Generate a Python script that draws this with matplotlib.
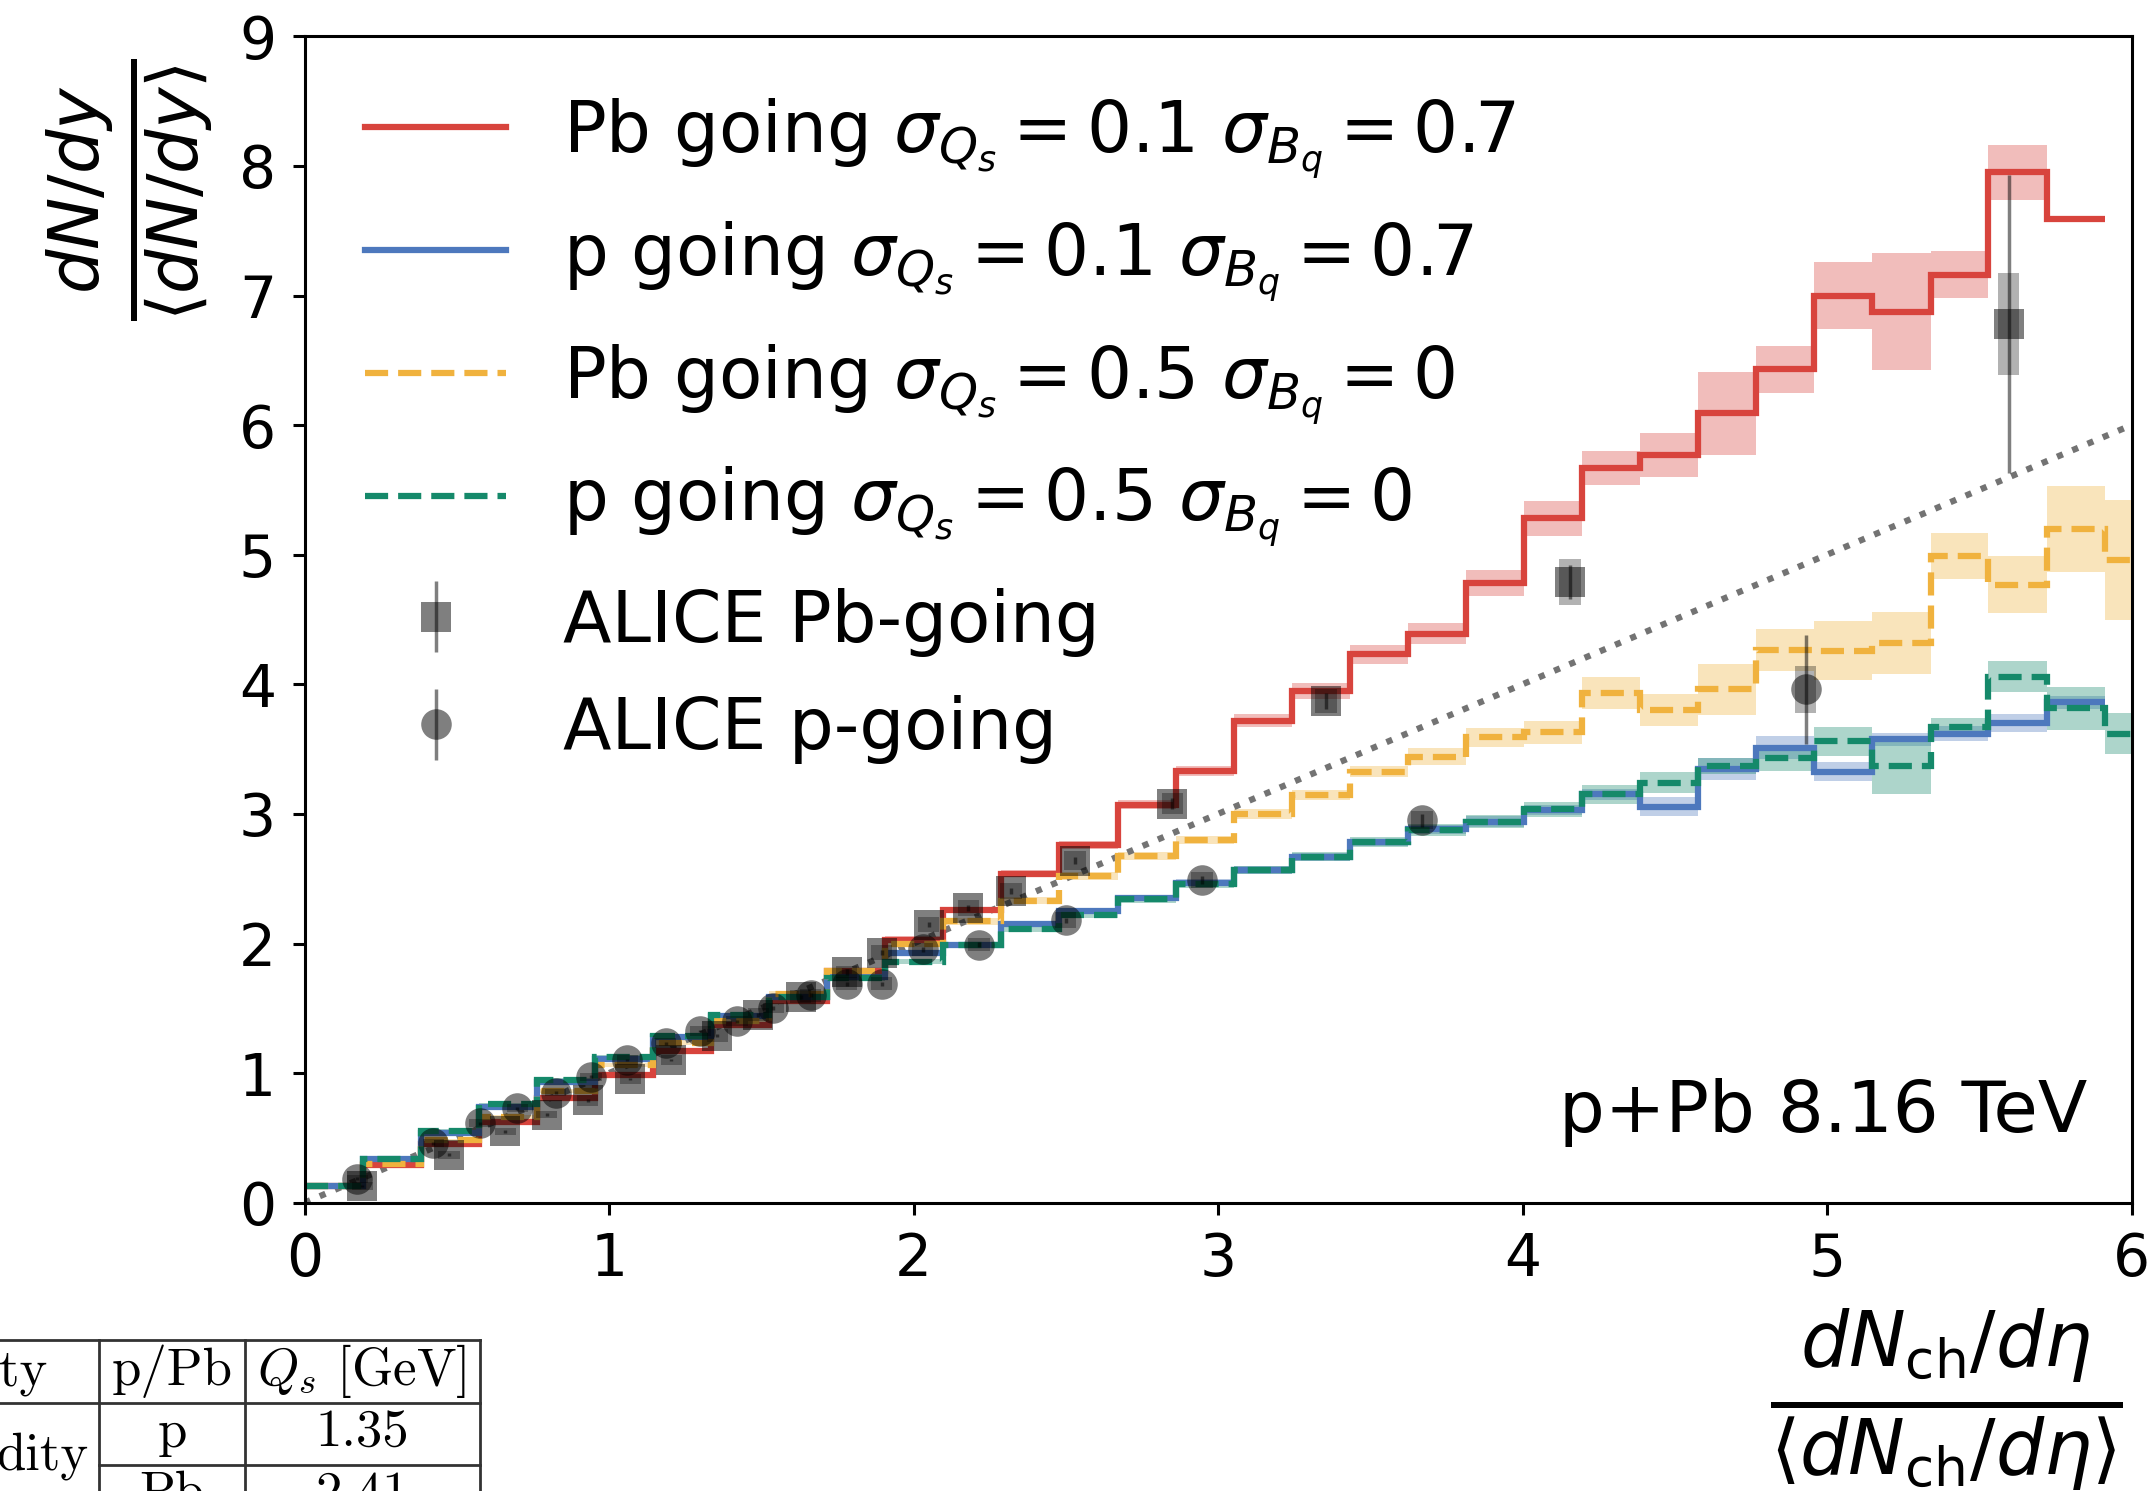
import numpy as np
import matplotlib
matplotlib.use("Agg")
import matplotlib.pyplot as plt
from matplotlib.lines import Line2D

# ---------------------------------------------------------------- data
# bin edges in dN_ch/deta / <dN_ch/deta>
edges = [0.000, 0.191, 0.381, 0.572, 0.763, 0.954, 1.144, 1.335, 1.526, 1.716,
         1.907, 2.098, 2.288, 2.479, 2.670, 2.861, 3.051, 3.242, 3.433, 3.623,
         3.814, 4.005, 4.195, 4.386, 4.577, 4.768, 4.958, 5.149, 5.340, 5.530,
         5.721, 5.912, 6.102]

# Pb going, sigma_Qs = 0.1, sigma_Bq = 0.7
pb_01 = [0.13, 0.29, 0.45, 0.62, 0.81, 0.985, 1.17, 1.37, 1.56, 1.79,
         2.03, 2.26, 2.54, 2.76, 3.07, 3.33, 3.72, 3.95, 4.23, 4.39,
         4.78, 5.28, 5.67, 5.77, 6.09, 6.43, 7.00, 6.875, 7.16, 7.95, 7.59]
pb_01_err = [0.01, 0.01, 0.01, 0.01, 0.015, 0.015, 0.015, 0.02, 0.02, 0.02,
             0.025, 0.025, 0.03, 0.03, 0.035, 0.04, 0.05, 0.06, 0.07, 0.08,
             0.10, 0.135, 0.13, 0.17, 0.32, 0.18, 0.26, 0.45, 0.18, 0.21, 0.0]

# p going, sigma_Qs = 0.1, sigma_Bq = 0.7
p_01 = [0.13, 0.34, 0.54, 0.74, 0.93, 1.11, 1.28, 1.44, 1.59, 1.74,
        1.93, 1.99, 2.15, 2.25, 2.35, 2.47, 2.57, 2.67, 2.78, 2.88,
        2.94, 3.03, 3.15, 3.055, 3.344, 3.51, 3.326, 3.575, 3.62, 3.70, 3.86]
p_01_err = [0.01, 0.01, 0.01, 0.01, 0.01, 0.015, 0.015, 0.015, 0.015, 0.02,
            0.02, 0.02, 0.02, 0.02, 0.025, 0.025, 0.03, 0.03, 0.03, 0.035,
            0.04, 0.04, 0.04, 0.075, 0.085, 0.09, 0.075, 0.05, 0.055, 0.07, 0.05]

# Pb going, sigma_Qs = 0.5, sigma_Bq = 0
pb_05 = [0.13, 0.30, 0.48, 0.66, 0.86, 1.06, 1.235, 1.40, 1.61, 1.79,
         2.00, 2.17, 2.33, 2.52, 2.675, 2.80, 3.00, 3.146, 3.326, 3.44,
         3.59, 3.63, 3.935, 3.80, 3.96, 4.265, 4.26, 4.32, 4.99, 4.77, 5.20, 4.96]
pb_05_err = [0.01, 0.01, 0.01, 0.015, 0.015, 0.015, 0.02, 0.02, 0.02, 0.02,
             0.025, 0.025, 0.025, 0.03, 0.03, 0.03, 0.04, 0.04, 0.045, 0.065,
             0.07, 0.09, 0.125, 0.125, 0.20, 0.165, 0.23, 0.24, 0.175, 0.22, 0.33, 0.46]

# p going, sigma_Qs = 0.5, sigma_Bq = 0
p_05 = [0.13, 0.34, 0.556, 0.76, 0.947, 1.127, 1.29, 1.45, 1.59, 1.73,
        1.86, 1.99, 2.11, 2.22, 2.34, 2.46, 2.57, 2.67, 2.785, 2.876,
        2.94, 3.035, 3.15, 3.24, 3.37, 3.434, 3.56, 3.37, 3.67, 4.06, 3.815, 3.62]
p_05_err = [0.01, 0.01, 0.01, 0.01, 0.015, 0.015, 0.015, 0.015, 0.02, 0.02,
            0.02, 0.02, 0.025, 0.025, 0.03, 0.03, 0.03, 0.035, 0.04, 0.045,
            0.05, 0.06, 0.07, 0.08, 0.065, 0.10, 0.11, 0.22, 0.07, 0.12, 0.165, 0.16]

# ALICE p+Pb 8.16 TeV, Pb-going side
alice_pb_x = [0.19, 0.475, 0.66, 0.795, 0.93, 1.07, 1.205, 1.356, 1.49, 1.63,
              1.78, 1.895, 2.05, 2.18, 2.32, 2.53, 2.85, 3.355, 4.156, 5.597]
alice_pb_y = [0.13, 0.37, 0.55, 0.68, 0.79, 0.955, 1.10, 1.29, 1.45, 1.59,
              1.78, 1.93, 2.145, 2.275, 2.405, 2.64, 3.08, 3.87, 4.79, 6.78]
alice_pb_stat = [0.01, 0.01, 0.01, 0.01, 0.01, 0.01, 0.01, 0.015, 0.015, 0.015,
                 0.02, 0.02, 0.02, 0.025, 0.025, 0.03, 0.04, 0.06, 0.13, 1.15]
alice_pb_sys = [0.03, 0.03, 0.03, 0.03, 0.04, 0.04, 0.04, 0.05, 0.05, 0.05,
                0.05, 0.06, 0.06, 0.06, 0.06, 0.07, 0.08, 0.09, 0.18, 0.39]

# ALICE p+Pb 8.16 TeV, p-going side
alice_p_x = [0.174, 0.423, 0.575, 0.699, 0.825, 0.941, 1.06, 1.186, 1.30, 1.42,
             1.54, 1.662, 1.78, 1.895, 2.03, 2.215, 2.50, 2.947, 3.67, 4.93]
alice_p_y = [0.185, 0.458, 0.613, 0.728, 0.85, 0.972, 1.10, 1.23, 1.325, 1.40,
             1.50, 1.60, 1.69, 1.69, 1.955, 1.99, 2.18, 2.49, 2.95, 3.96]
alice_p_stat = [0.01, 0.01, 0.01, 0.01, 0.01, 0.01, 0.01, 0.01, 0.01, 0.01,
                0.015, 0.015, 0.015, 0.015, 0.02, 0.02, 0.02, 0.03, 0.05, 0.42]
alice_p_sys = [0.03, 0.03, 0.03, 0.03, 0.03, 0.03, 0.04, 0.04, 0.04, 0.04,
               0.04, 0.05, 0.05, 0.05, 0.05, 0.05, 0.06, 0.06, 0.07, 0.185]

# y = x reference
diag_x = [0.0, 6.0]
diag_y = [0.0, 6.0]

labels = [r"Pb going $\sigma_{Q_s}=0.1$ $\sigma_{B_q}=0.7$",
          r"p going $\sigma_{Q_s}=0.1$ $\sigma_{B_q}=0.7$",
          r"Pb going $\sigma_{Q_s}=0.5$ $\sigma_{B_q}=0$",
          r"p going $\sigma_{Q_s}=0.5$ $\sigma_{B_q}=0$",
          "ALICE Pb-going", "ALICE p-going"]

x_ticks = [0, 1, 2, 3, 4, 5, 6]
y_ticks = [0, 1, 2, 3, 4, 5, 6, 7, 8, 9]

# ---------------------------------------------------------------- figure
W, H = 2151, 1491
fig = plt.figure(figsize=(W / 100, H / 100), dpi=100)
ax = fig.add_axes([304.5 / W, 1 - 1202.7 / H, 1827 / W, 1166.4 / H])

RED, BLUE, YELLOW, GREEN = "#d8443d", "#4d78bd", "#f0b23e", "#15896a"
LW = 4.5

series = [(pb_01, pb_01_err, RED, "-"),
          (p_01, p_01_err, BLUE, "-"),
          (pb_05, pb_05_err, YELLOW, "--"),
          (p_05, p_05_err, GREEN, "--")]

handles = []
for i, (vals, err, col, ls) in enumerate(series):
    v = np.asarray(vals)
    e = np.asarray(err)
    ed = edges[:len(v) + 1]
    ax.stairs(v + e, ed, baseline=v - e, fill=True, color=col, alpha=0.35,
              lw=0, zorder=1 + i * 0.1)
    ax.stairs(v, ed, baseline=None, color=col, lw=LW, ls=ls,
              zorder=2 + i * 0.1, label=labels[i])
    handles.append(Line2D([], [], color=col, lw=LW, ls=ls))

ax.plot(diag_x, diag_y, ls=":", color="0.45", lw=4.5, zorder=1.5)

# ALICE points: systematic boxes + statistical bars
ax.bar(alice_pb_x, 2 * np.asarray(alice_pb_sys),
       bottom=np.asarray(alice_pb_y) - np.asarray(alice_pb_sys),
       width=0.07, color="k", alpha=0.3, lw=0, zorder=4)
ax.bar(alice_p_x, 2 * np.asarray(alice_p_sys),
       bottom=np.asarray(alice_p_y) - np.asarray(alice_p_sys),
       width=0.07, color="k", alpha=0.3, lw=0, zorder=4)
eb_pb = ax.errorbar(alice_pb_x, alice_pb_y, yerr=alice_pb_stat, fmt="s",
                    color="k", alpha=0.5, ms=22, mew=0, elinewidth=2.5,
                    capsize=0, zorder=5)
eb_p = ax.errorbar(alice_p_x, alice_p_y, yerr=alice_p_stat, fmt="o",
                   color="k", alpha=0.5, ms=22, mew=0, elinewidth=2.5,
                   capsize=0, zorder=5)
handles += [eb_pb, eb_p]

ax.set_xlim(0, 6)
ax.set_ylim(0, 9)
ax.set_xticks(x_ticks)
ax.set_yticks(y_ticks)
for s in ax.spines.values():
    s.set_linewidth(2.2)
ax.tick_params(labelsize=42, length=8.5, width=2.2, pad=12)

ax.legend(handles, labels, loc="upper left", frameon=False, fontsize=51,
          handlelength=2.0, handletextpad=0.8, labelspacing=0.54,
          borderaxespad=0.45)

ax.text(0.976, 0.061, "p+Pb 8.16 TeV", transform=ax.transAxes, ha="right",
        va="baseline", fontsize=52)

# axis titles as fractions
fig.text(129 / W, 1 - 189.5 / H, r"$\frac{dN/dy}{\langle dN/dy\rangle}$",
         rotation=90, ha="center", va="center", fontsize=72)
fig.text(1946 / W, 1 - 1400 / H,
         r"$\frac{dN_{\rm ch}/d\eta}{\langle dN_{\rm ch}/d\eta\rangle}$",
         ha="center", va="center", fontsize=78)

# ---------------------------------------------------------------- table
def fx(px):
    return px / W


def fy(py):
    return 1 - py / H


tbl_kw = dict(color="0.2", lw=2.0, transform=fig.transFigure)
fig.add_artist(Line2D([fx(0), fx(479.5)], [fy(1340), fy(1340)], **tbl_kw))
fig.add_artist(Line2D([fx(0), fx(479.5)], [fy(1403), fy(1403)], **tbl_kw))
fig.add_artist(Line2D([fx(98.7), fx(479.5)], [fy(1465), fy(1465)], **tbl_kw))
for vx in (98.7, 245, 479.5):
    fig.add_artist(Line2D([fx(vx), fx(vx)], [fy(1340), fy(1495)], **tbl_kw))

cm_kw = dict(fontsize=38, family="cmr10", math_fontfamily="cm", va="baseline")
fig.text(fx(47), fy(1385), "ty", ha="right", **cm_kw)
fig.text(fx(172), fy(1385), "p/Pb", ha="center", **cm_kw)
fig.text(fx(362), fy(1385), r"$Q_s$ [GeV]", ha="center", **cm_kw)
fig.text(fx(88), fy(1470), "dity", ha="right", **cm_kw)
fig.text(fx(172), fy(1447), "p", ha="center", **cm_kw)
fig.text(fx(362), fy(1447), "1.35", ha="center", **cm_kw)
fig.text(fx(172), fy(1508), "Pb", ha="center", **cm_kw)
fig.text(fx(362), fy(1508), "2.41", ha="center", **cm_kw)

fig.savefig("out.png", dpi=100)
